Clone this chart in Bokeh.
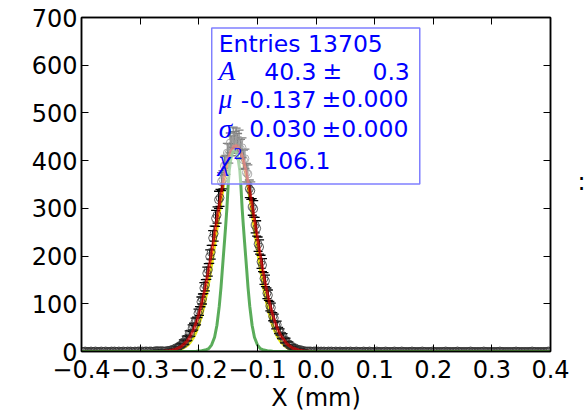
import numpy as np
from bokeh.plotting import figure
from bokeh.models import (Range1d, FixedTicker, LinearAxis, BoxAnnotation, Label,
                          CustomJSTickFormatter)
from bokeh.embed import file_html
from bokeh.resources import INLINE

# ---------------- data ----------------
bin_width = 0.0025
tail_left = [0, 0, 1, 0, 0, 0, 1, 0, 0, 1, 0, 0, 0, 1, 0, 0, 1, 0, 0, 0,
             1, 0, 1, 0, 0, 1, 0, 0, 1, 0, 0, 1, 0, 1, 0, 0, 1, 0, 1, 1,
             0, 1, 0, 1, 1, 0, 1, 1, 0, 1, 1, 2, 1, 1, 2, 1]
core_left = [1, 1, 2, 2, 3, 3, 5, 4, 8, 7, 11, 13, 14, 20, 19, 27, 28, 37, 38, 49,
             52, 62, 64, 80, 85, 104, 110, 133, 139, 164, 171, 199, 208, 238, 247,
             279, 286, 318, 322, 356, 360, 389, 391, 416, 415, 437, 431, 449, 440]
core_right = [447, 436, 443, 424, 427, 402, 404, 375, 372, 341, 337, 303, 299, 265,
              258, 225, 219, 188, 181, 153, 148, 122, 118, 95, 92, 73, 70, 55, 56, 44,
              41, 33, 32, 23, 23, 16, 16, 11, 11, 7, 8, 5, 5, 3, 4, 2, 2, 1, 1]
tail_right = [1, 1, 1, 0, 1, 1, 0, 1, 0, 1, 0, 1, 0, 0, 1, 0, 1, 0, 0, 1,
              0, 0, 1, 0, 0, 0, 1, 0, 0, 1, 0, 0, 0, 1, 0, 0, 0, 0, 1, 0,
              0, 0, 1, 0, 0, 0, 0, 1, 0, 0, 0, 0, 0, 1, 0, 0, 0, 0, 0, 1,
              0, 0, 0, 0, 1, 0, 0, 0, 0, 0, 0, 1, 0, 0, 0, 0, 0, 0, 1, 0,
              0, 0, 0, 0, 0, 1, 0, 0, 0, 0, 0, 0, 0, 0, 1, 0, 0, 0, 0, 0,
              0, 0, 1, 0, 0, 0, 0, 0, 0, 0, 0, 1, 0, 0, 0, 0, 0, 0, 0, 0,
              1, 0, 0, 0, 0, 0, 0, 0, 0, 0, 0, 1, 0, 0, 0, 0, 0, 0, 0, 0,
              0, 0, 1, 0, 0, 0, 0, 0, 0, 0, 0, 0, 0, 1, 0, 0, 0, 0, 0, 0,
              0, 0, 0, 0, 1, 0]
counts = tail_left + core_left + core_right + tail_right

fit_x = [-0.40, -0.30, -0.28, -0.26, -0.25, -0.24, -0.23, -0.22, -0.215, -0.21,
         -0.205, -0.20, -0.195, -0.19, -0.185, -0.18, -0.175, -0.17, -0.165, -0.16,
         -0.155, -0.15, -0.145, -0.14, -0.135, -0.13, -0.125, -0.12, -0.115, -0.11,
         -0.105, -0.10, -0.095, -0.09, -0.085, -0.08, -0.075, -0.07, -0.065, -0.06,
         -0.05, -0.04, -0.03, -0.02, -0.01, 0.00, 0.40]
red_y = [0, 0, 0.1, 0.6, 1.7, 4.4, 10.3, 21.9, 31.1, 43.1,
         58.5, 77.6, 100.8, 128, 159.5, 194, 231.3, 270, 307.8, 344,
         375.5, 402, 420.2, 430, 431.3, 423, 405.9, 381, 350.4, 315,
         277.4, 239, 201.4, 166, 134.1, 106, 81.9, 62, 45.9, 33.3,
         16.4, 7.4, 3.1, 1.2, 0.4, 0.1, 0]
yellow_y = [0, 0, 0, 0.2, 0.6, 1.7, 4.8, 12.1, 18.3, 27.2,
            39.2, 55.2, 75.6, 101, 131.2, 166, 205.2, 247, 289.3, 330,
            367.5, 398, 420.8, 433, 434.1, 424, 403.6, 374, 338.2, 298,
            255.3, 213, 173.7, 138, 106.5, 80, 58.9, 42, 29.3, 19.9,
            8.5, 3.3, 1.1, 0.3, 0.1, 0, 0]

green_x = [-0.40, -0.219, -0.204, -0.195, -0.189, -0.183, -0.178, -0.173, -0.169, -0.165,
           -0.162, -0.160, -0.158, -0.156, -0.154, -0.152, -0.150, -0.148, -0.145, -0.142,
           -0.139, -0.136, -0.133, -0.130, -0.128, -0.126, -0.124, -0.122, -0.120, -0.118,
           -0.116, -0.113, -0.109, -0.105, -0.100, -0.095, -0.089, -0.083, -0.074, -0.059,
           0.40]
green_y = [0, 0, 0.5, 1.5, 3, 6, 14, 30, 55, 95,
           135, 168, 200, 232, 265, 300, 345, 380, 405, 418,
           422, 418, 405, 380, 345, 300, 265, 232, 200, 168,
           135, 95, 55, 30, 14, 6, 3, 1.5, 0.5, 0,
           0]

x_ticks = [-0.4, -0.3, -0.2, -0.1, 0.0, 0.1, 0.2, 0.3, 0.4]
y_ticks = [0, 100, 200, 300, 400, 500, 600, 700]

stats_lines = ["Entries 13705"]
stat_symbols = ["A", "\u03bc", "\u03c3", "\u03c7"]
stat_values = ["40.3", "-0.137", "0.030", "106.1"]
stat_errors = ["0.3", "0.000", "0.000", None]

# ---------------- figure ----------------
X0, X1, Y0, Y1 = -0.4, 0.4, 0, 700
FL, FR, FT, FB = 81, 551, 17, 351


def px2x(px):
    return X0 + (px - FL) / (FR - FL) * (X1 - X0)


def py2y(py):
    return Y0 + (FB - py) / (FB - FT) * (Y1 - Y0)


p = figure(width=588, height=415, x_range=Range1d(X0, X1), y_range=Range1d(Y0, Y1),
           output_backend="svg", toolbar_location=None,
           min_border_left=FL, min_border_right=588 - FR, min_border_top=FT,
           min_border_bottom=415 - FB, background_fill_color="white",
           border_fill_color="white")
p.xgrid.visible = False
p.ygrid.visible = False
p.outline_line_color = "black"
p.outline_line_width = 1.5

fmt = CustomJSTickFormatter(code="""
return (tick < -1e-9 ? "\\u2212" : "") + Math.abs(tick).toFixed(1);
""")
blank = CustomJSTickFormatter(code='return "";')

for ax in [p.xaxis[0], p.yaxis[0]]:
    ax.axis_line_width = 1.5
    ax.major_tick_in = 7
    ax.major_tick_out = 0
    ax.minor_tick_line_color = None
    ax.major_label_text_font = "DejaVu Sans"
    ax.major_label_text_font_size = "24px"
    ax.major_label_text_color = "black"

p.xaxis.ticker = FixedTicker(ticks=x_ticks)
p.xaxis.formatter = fmt
p.xaxis.major_label_standoff = 8
p.xaxis.axis_label = "X (mm)"
p.xaxis.axis_label_text_font = "DejaVu Sans"
p.xaxis.axis_label_text_font_size = "24px"
p.xaxis.axis_label_text_font_style = "normal"
p.xaxis.axis_label_text_color = "black"
p.xaxis.axis_label_standoff = 3
p.yaxis.ticker = FixedTicker(ticks=y_ticks)
p.yaxis.major_label_standoff = 4

top_ax = LinearAxis(ticker=FixedTicker(ticks=x_ticks), formatter=blank, major_tick_in=7,
                    major_tick_out=0, minor_tick_line_color=None,
                    axis_line_width=1.5, major_label_standoff=0)
right_ax = LinearAxis(ticker=FixedTicker(ticks=y_ticks), formatter=blank, major_tick_in=7,
                      major_tick_out=0, minor_tick_line_color=None,
                      axis_line_width=1.5, major_label_standoff=0)
p.add_layout(top_ax, "above")
p.add_layout(right_ax, "right")

# stray fragment ":" of a clipped neighbouring label, shown at the right edge
colon_ax = LinearAxis(ticker=FixedTicker(ticks=[py2y(181)]),
                      formatter=CustomJSTickFormatter(code='return ":";'),
                      major_tick_in=0, major_tick_out=0, minor_tick_line_color=None,
                      axis_line_color=None, major_label_standoff=27,
                      major_label_text_font="DejaVu Sans", major_label_text_font_size="24px",
                      major_label_text_color="black")
p.add_layout(colon_ax, "right")

# ---------------- marks ----------------
centers = np.round(X0 + bin_width / 2 + bin_width * np.arange(len(counts)), 6)
cnt = np.array(counts, dtype=float)
err = np.sqrt(cnt)

p.line(fit_x, yellow_y, line_color="#e6e600", line_width=3, line_alpha=0.9)
p.segment(x0=centers, y0=cnt - err, x1=centers, y1=cnt + err, line_color="black", line_width=1.2)
p.scatter(centers, cnt + err, marker="dash", size=9, line_color="black", line_width=1.3)
p.scatter(centers, cnt - err, marker="dash", size=9, line_color="black", line_width=1.3)
p.scatter(centers, cnt, marker="circle", size=8, fill_color=None, line_color="#333333",
          line_width=1, line_alpha=0.8)
p.line(fit_x, red_y, line_color="red", line_width=3, line_alpha=0.6)
p.line(green_x, green_y, line_color="#3d9e3d", line_width=3, line_alpha=0.85)

# ---------------- stats box ----------------
box = BoxAnnotation(left=px2x(211.5), right=px2x(420), top=py2y(27.5), bottom=py2y(183.5),
                    fill_color="white", fill_alpha=0.5, line_color="#8080ff",
                    line_width=1.5, line_alpha=1.0)
p.add_layout(box)

blue = "#0000ff"
FS = "23.5px"
DY = -8  # baseline correction (pixels, upward)


def lab(px, py, text, align="left", font="DejaVu Sans", style="normal", size=FS):
    p.add_layout(Label(x=px2x(px), y=py2y(py + DY), text=text, text_align=align,
                       text_baseline="alphabetic", text_font=font, text_font_style=style,
                       text_font_size=size, text_color=blue))


lab(218.5, 51.7, stats_lines[0])
baselines = [78.5, 106.5, 136.0, 168.0]
for i in range(4):
    lab(218.5, baselines[i], stat_symbols[i], font="Liberation Serif", style="italic", size="27px")
    lab(316.5 if i < 3 else 330.5, baselines[i], stat_values[i], align="right")
lab(233.5, 160.5, "2", font="Liberation Serif", size="17px")
lab(322.5, baselines[0], "\u00b1")
lab(410, baselines[0], stat_errors[0], align="right")
lab(321.5, baselines[1], "\u00b1" + stat_errors[1])
lab(321.5, baselines[2], "\u00b1" + stat_errors[2])

open("out.html", "w").write(file_html(p, INLINE))
